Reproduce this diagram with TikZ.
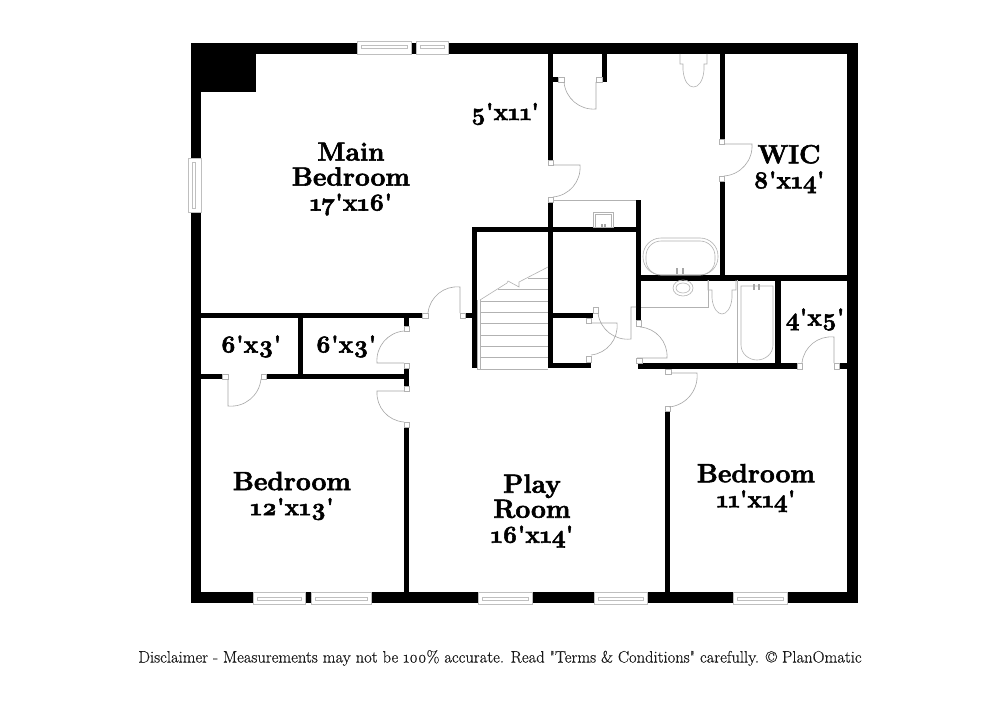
\documentclass[tikz,border=0pt]{standalone}
\usepackage{fontspec}
\setmainfont{Latin Modern Roman}[Ligatures=TeXOff,Numbers=OldStyle,BoldFeatures={FakeBold=2.2}]
\newfontface\notefont{Latin Modern Roman}[Ligatures=TeXOff,Numbers=OldStyle,FakeBold=0.35]
\newcommand{\sizes}[1]{{\fontsize{24.4}{25}\selectfont #1}}
\usetikzlibrary{positioning,calc}

\begin{document}
\begin{tikzpicture}[
    x=1pt, y=-1pt,
    wall/.style={fill=black},
    tab/.style={draw=gray!60, fill=white, line width=0.5pt},
    window/.style={draw=gray!50, fill=white, line width=0.6pt},
    pane/.style={draw=gray!50, line width=0.4pt},
    door/.style={draw=gray!70, line width=0.6pt},
    fixture/.style={draw=gray!60, line width=0.6pt},
    tread/.style={draw=gray!60, line width=0.6pt},
    room/.style={font=\fontsize{26.3}{25}\selectfont\bfseries, align=center, inner sep=0pt, text=black},
    note/.style={font=\fontsize{16.55}{16}\selectfont\notefont, inner sep=0pt, text=black!90}
]

\definecolor{paper}{RGB}{255,255,255}
\useasboundingbox[fill=paper] (0,0) rectangle (1000,727);

% Outer walls
\fill[wall] (191,43) rectangle (858,54);
\fill[wall] (191,592) rectangle (858,603);
\fill[wall] (191,43) rectangle (201,603);
\fill[wall] (847,43) rectangle (858,603);
\fill[wall] (191,43) rectangle (256,92);

% Main bath and WIC
\fill[wall] (548,54) rectangle (553,160);
\fill[wall] (548,202) rectangle (553,368);
\fill[wall] (553,77) rectangle (558,82);
\fill[wall] (602,54) rectangle (607,82);
\fill[wall] (719.5,54) rectangle (724.5,139);
\fill[wall] (719.5,181) rectangle (724.5,277);
\fill[wall] (636,200) rectangle (641,320);
\fill[wall] (472,227) rectangle (641,232);
\fill[wall] (636,275) rectangle (848,280.5);

% Stairs and landing closet
\fill[wall] (472,227) rectangle (477,368);
\fill[wall] (465,313) rectangle (472,318);
\fill[wall] (553,313) rectangle (593,318);
\fill[wall] (553,363) rectangle (589,368);
\fill[wall] (586,362) rectangle (591,368);

% Second bath and 4x5 closet
\fill[wall] (775,280) rectangle (780.5,363);
\fill[wall] (638,363) rectangle (797,369);
\fill[wall] (839,363) rectangle (847,369);
\fill[wall] (665,411) rectangle (670,592);

% West rooms
\fill[wall] (201,313) rectangle (422,318);
\fill[wall] (298,318) rectangle (303,374);
\fill[wall] (201,374) rectangle (222,379);
\fill[wall] (266,374) rectangle (405,379);
\fill[wall] (404,318) rectangle (409,326);
\fill[wall] (404,368) rectangle (409,386);
\fill[wall] (404,427) rectangle (409,592);

% Windows
\draw[window] (357,41) rectangle (411,54);
\draw[window] (416,41) rectangle (448,54);
\draw[window] (188.5,158) rectangle (201,212);
\draw[window] (253,592) rectangle (305,604);
\draw[window] (311,592) rectangle (371,604);
\draw[window] (478,592) rectangle (532,604);
\draw[window] (594,592) rectangle (647,604);
\draw[window] (733,592) rectangle (787,604);
\draw[pane] (361,45) rectangle (407,48);
\draw[pane] (420,45) rectangle (444,48);
\draw[pane] (192,162) rectangle (195,208);
\draw[pane] (257,597) rectangle (301,600);
\draw[pane] (315,597) rectangle (367,600);
\draw[pane] (482,597) rectangle (528,600);
\draw[pane] (598,597) rectangle (643,600);
\draw[pane] (737,597) rectangle (783,600);

% Door jambs
\draw[tab] (558,77) rectangle (564,82);
\draw[tab] (596,77) rectangle (602,82);
\draw[tab] (548,160) rectangle (553,165);
\draw[tab] (548,197) rectangle (553,202);
\draw[tab] (719.5,139) rectangle (724.5,144);
\draw[tab] (719.5,176) rectangle (724.5,181);
\draw[tab] (586,318) rectangle (591,323);
\draw[tab] (586,356) rectangle (591,362);
\draw[tab] (593,307) rectangle (598,313);
\draw[tab] (636,320) rectangle (641,326);
\draw[tab] (636,358) rectangle (642,363);
\draw[tab] (665,369) rectangle (671,374);
\draw[tab] (665,406) rectangle (670,411);
\draw[tab] (797,363) rectangle (802,369);
\draw[tab] (834,363) rectangle (839,369);
\draw[tab] (422,313) rectangle (428,318);
\draw[tab] (460,313) rectangle (465,318);
\draw[tab] (222,374) rectangle (228,379);
\draw[tab] (261,374) rectangle (266,379);
\draw[tab] (404,326) rectangle (409,331);
\draw[tab] (404,363) rectangle (409,368);
\draw[tab] (404,386) rectangle (409,391);
\draw[tab] (404,422) rectangle (409,427);

% Door leaves
\draw[door] (596,82) -- (596,109) to[bend left=45] (564,82);
\draw[door] (553,165) -- (580,165) to[bend left=45] (553,197);
\draw[door] (724,144) -- (752,144) to[bend left=45] (724,176);
\draw[door] (591,323) -- (617,323) to[bend left=45] (591,355);
\draw[door] (636,307) -- (631,307) -- (631,339) to[bend left=45] (598,313);
\draw[door] (637,358) -- (667,358) to[bend right=45] (640,327);
\draw[door] (671,373) -- (697,373) to[bend left=45] (669,407);
\draw[door] (834,363) -- (834,337) to[bend right=45] (802,363);
\draw[door] (460,313) -- (460,287) to[bend right=45] (428,313);
\draw[door] (228,379) -- (228,406) to[bend right=45] (261,379);
\draw[door] (404,363) -- (377,363) to[bend left=45] (404,331);
\draw[door] (404,391) -- (377,391) to[bend right=45] (404,422);

% Stair treads
\draw[tread] (480,300) -- (480,369);
\draw[tread] (477.5,300) -- (477.5,369);
\draw[tread] (528,278) -- (548,278);
\draw[tread] (498,289) -- (548,289);
\draw[tread] (480,301) -- (548,301);
\draw[tread] (480,312) -- (548,312);
\draw[tread] (480,323) -- (548,323);
\draw[tread] (480,335) -- (548,335);
\draw[tread] (480,346) -- (548,346);
\draw[tread] (480,357) -- (548,357);
\draw[tread] (477,369) -- (548,369);
\draw[tread] (480,300) -- (507,283) -- (508,281) -- (519,287) -- (519,282) -- (548,267);

% Upper bath fixtures
\draw[fixture] (680,54) -- (680,64) -- (683,64) -- (683,70) .. controls (684,82) and (689,87) .. (693.5,87) .. controls (698,87) and (703,82) .. (704,70) -- (704,64) -- (707,64) -- (707,54);
\draw[fixture] (553,200) -- (636,200);
\draw[fixture] (593,212) rectangle (613,227);
\draw[fixture] (595,214) rectangle (611,227);
\fill[gray!70] (601,224) rectangle (603,227);
\fill[gray!70] (604,224) rectangle (606,227);
\draw[fixture, rounded corners=18pt] (643,238) rectangle (718,275);
\draw[fixture, rounded corners=15pt] (646,241) rectangle (715,275);
\fill[gray!70] (676,268) rectangle (678,274);
\fill[gray!70] (682,268) rectangle (684,274);

% Lower bath fixtures
\draw[fixture] (641,307) -- (708,307) -- (708,280);
\draw[fixture] (683,288) ellipse (10 and 8);
\draw[fixture] (683,288) ellipse (7 and 5);
\draw[fixture] (708,280) -- (708,290) -- (712,290) -- (712,298) .. controls (713,309) and (718,314) .. (722,314) .. controls (726,314) and (731,309) .. (732,298) -- (732,290) -- (736,290) -- (736,280);
\draw[fixture] (737,280) -- (737,363);
\draw[fixture] (741,286) -- (773,286) -- (773,345) .. controls (773,354) and (765,360) .. (757,360) .. controls (749,360) and (741,354) .. (741,345) -- cycle;
\fill[gray!70] (753,284) rectangle (755,290);
\fill[gray!70] (758,284) rectangle (760,290);

% Room labels
\node[room] (mainbed) at (351,179) {Main\\Bedroom\\\sizes{17'x16'}};
\node[room] (bathlbl) at (505,114) {\sizes{5'x11'}};
\node[room] (wic) at (789,169) {WIC\\\sizes{8'x14'}};
\node[room] (closeta) at (251,346.5) {\sizes{6'x3'}};
\node[room] (closetb) at (346,346.5) {\sizes{6'x3'}};
\node[room] (closetc) at (815,319.5) {\sizes{4'x5'}};
\node[room] (bedwest) at (292,496) {Bedroom\\\sizes{12'x13'}};
\node[room] (play) at (532,511) {Play\\Room\\\sizes{16'x14'}};
\node[room] (bedeast) at (756,488) {Bedroom\\\sizes{11'x14'}};

% Footer
\node[note] (disclaimer) at (500,658) {Disclaimer - Measurements may not be 100\% accurate. Read "Terms \& Conditions" carefully. © PlanOmatic};

\end{tikzpicture}
\end{document}
